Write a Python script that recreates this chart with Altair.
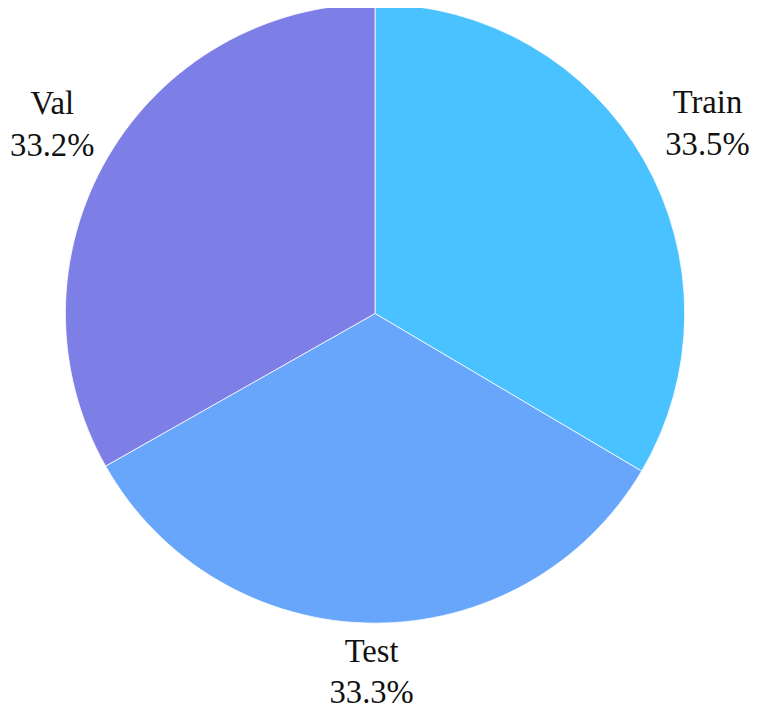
import altair as alt
import pandas as pd

categories = ["Train", "Test", "Val"]
values = [33.5, 33.3, 33.2]
colors = ["#4AC2FF", "#67A6FA", "#7D7FE7"]

df = pd.DataFrame({"split": categories, "value": values})

CX, CY, R = 371, 305, 313

base = alt.Chart(df).transform_window(
    idx="row_number()"
).transform_joinaggregate(
    total="sum(value)"
).transform_window(
    cum="sum(value)", sort=[alt.SortField("idx")], frame=[None, 0]
).transform_calculate(
    mid="2*PI*(datum.cum - datum.value/2)/datum.total",
).transform_calculate(
    labelR="372 + 17*abs(sin(datum.mid)) - (sin(datum.mid) < 0 ? 9 : 0)",
    label="[datum.split, format(datum.value, '.1f') + '%']",
)

pie = base.mark_arc(radius=R, stroke="#ffffff", strokeWidth=0.8).encode(
    theta=alt.Theta("value:Q", stack=True),
    order=alt.Order("idx:Q"),
    color=alt.Color("split:N", scale=alt.Scale(domain=categories, range=colors), legend=None),
    x=alt.value(CX),
    y=alt.value(CY),
)

labels = base.mark_text(
    font="Liberation Serif, Times New Roman, serif", fontSize=33, lineHeight=42,
    color="#111111", align="center", baseline="middle", dy=-21,
).encode(
    theta=alt.Theta("mid:Q", scale=None),
    radius=alt.Radius("labelR:Q", scale=None),
    text="label:N",
    x=alt.value(CX),
    y=alt.value(CY),
)

chart = alt.layer(pie, labels).properties(
    width=752, height=704,
    autosize=alt.AutoSizeParams(type="none"),
    padding=0,
).configure_view(stroke=None)

chart.save("out.html", embed_options={"renderer": "svg", "actions": False})
